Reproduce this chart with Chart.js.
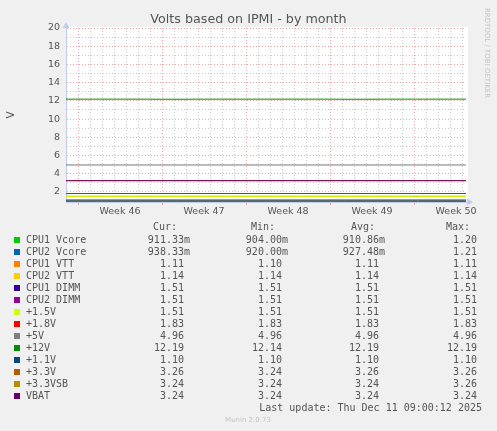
<!DOCTYPE html>
<html>
<head>
<meta charset="utf-8">
<script src="https://cdn.jsdelivr.net/npm/chart.js@4.4.1/dist/chart.umd.min.js"></script>
<style>
    body { margin: 0; background: #f0f0f0; }
    #wrap { position: relative; width: 497px; height: 431px; overflow: hidden; }
    #chart { position: absolute; left: 0; top: 0; }
    #legend { position: absolute; left: 0; top: 0; width: 497px; height: 431px;
              font-family: "DejaVu Sans Mono", monospace; font-size: 10px; color: #555; }
    .t { position: absolute; white-space: pre; line-height: 12px; }
    .sw { position: absolute; width: 6px; height: 6px; }
    #credit { position: absolute; left: 487px; top: 53px; white-space: nowrap;
              transform: translate(-50%, -50%) rotate(90deg);
              font-family: "DejaVu Sans", sans-serif; font-size: 7px; color: #c4c4c4; }
    #munin { position: absolute; left: 248px; top: 420px; transform: translate(-50%, -50%);
             font-family: "DejaVu Sans", sans-serif; font-size: 7px; color: #c4c4c4; }
</style>
</head>
<body>
<div id="wrap">
    <canvas id="chart" width="497" height="431"></canvas>
    <div id="legend"></div>
    <div id="credit">RRDTOOL / TOBI OETIKER</div>
    <div id="munin">Munin 2.0.73</div>
</div>
<script>
// x in days, 0 = monday of week 46
let days = [-1, 2, 5, 8, 11, 14, 17, 20, 23, 26, 27.9, 28.1, 28.3, 30, 32.33];

let week_label_days = [3.5, 10.5, 17.5, 24.5, 31.5];
let week_labels = ['Week 46', 'Week 47', 'Week 48', 'Week 49', 'Week 50'];
let y_tick_values = [1, 2, 3, 4, 5, 6, 7, 8, 9, 10, 11, 12, 13, 14, 15, 16, 17, 18, 19, 20];

let series_names = ['CPU1 Vcore', 'CPU2 Vcore', 'CPU1 VTT', 'CPU2 VTT', 'CPU1 DIMM', 'CPU2 DIMM',
    '+1.5V', '+1.8V', '+5V', '+12V', '+1.1V', '+3.3V', '+3.3VSB', 'VBAT'];
let series_colors = ['#00CC00', '#0066B3', '#FF8000', '#FFCC00', '#330099', '#990099',
    '#CCFF00', '#FF0000', '#808080', '#008F00', '#00487D', '#B35A00', '#B38F00', '#6B006B'];

let cpu1_vcore = [0.91, 0.91, 0.911, 0.91, 0.911, 0.91, 0.911, 0.91, 0.911, 0.91, 0.91, 1.02, 0.91, 0.911, 0.911];
let cpu2_vcore = [0.927, 0.927, 0.928, 0.927, 0.927, 0.928, 0.927, 0.927, 0.928, 0.927, 0.927, 0.94, 0.927, 0.938, 0.938];
let cpu1_vtt = [1.11, 1.11, 1.11, 1.11, 1.11, 1.11, 1.11, 1.11, 1.11, 1.11, 1.11, 1.11, 1.11, 1.11, 1.11];
let cpu2_vtt = [1.14, 1.14, 1.14, 1.14, 1.14, 1.14, 1.14, 1.14, 1.14, 1.14, 1.14, 1.14, 1.14, 1.14, 1.14];
let cpu1_dimm = [1.51, 1.51, 1.51, 1.51, 1.51, 1.51, 1.51, 1.51, 1.51, 1.51, 1.51, 1.51, 1.51, 1.51, 1.51];
let cpu2_dimm = [1.51, 1.51, 1.51, 1.51, 1.51, 1.51, 1.51, 1.51, 1.51, 1.51, 1.51, 1.51, 1.51, 1.51, 1.51];
let v1_5 = [1.51, 1.51, 1.51, 1.51, 1.51, 1.51, 1.51, 1.51, 1.51, 1.51, 1.51, 1.51, 1.51, 1.51, 1.51];
let v1_8 = [1.83, 1.83, 1.83, 1.83, 1.83, 1.83, 1.83, 1.83, 1.83, 1.83, 1.83, 1.83, 1.83, 1.83, 1.83];
let v5 = [4.96, 4.96, 4.96, 4.96, 4.96, 4.96, 4.96, 4.96, 4.96, 4.96, 4.96, 4.96, 4.96, 4.96, 4.96];
let v12 = [12.19, 12.19, 12.19, 12.18, 12.19, 12.19, 12.19, 12.19, 12.18, 12.19, 12.19, 12.19, 12.19, 12.19, 12.19];
let v1_1 = [1.10, 1.10, 1.10, 1.10, 1.10, 1.10, 1.10, 1.10, 1.10, 1.10, 1.10, 1.10, 1.10, 1.10, 1.10];
let v3_3 = [3.26, 3.26, 3.26, 3.26, 3.26, 3.26, 3.26, 3.26, 3.26, 3.26, 3.26, 3.26, 3.26, 3.26, 3.26];
let v3_3sb = [3.24, 3.24, 3.24, 3.24, 3.24, 3.24, 3.24, 3.24, 3.24, 3.24, 3.24, 3.24, 3.24, 3.24, 3.24];
let vbat = [3.24, 3.24, 3.24, 3.24, 3.24, 3.24, 3.24, 3.24, 3.24, 3.24, 3.24, 3.24, 3.24, 3.24, 3.24];

let series_values = [cpu1_vcore, cpu2_vcore, cpu1_vtt, cpu2_vtt, cpu1_dimm, cpu2_dimm,
    v1_5, v1_8, v5, v12, v1_1, v3_3, v3_3sb, vbat];

let cur_values = ['911.33m', '938.33m', '1.11 ', '1.14 ', '1.51 ', '1.51 ', '1.51 ', '1.83 ', '4.96 ', '12.19 ', '1.10 ', '3.26 ', '3.24 ', '3.24 '];
let min_values = ['904.00m', '920.00m', '1.10 ', '1.14 ', '1.51 ', '1.51 ', '1.51 ', '1.83 ', '4.96 ', '12.14 ', '1.10 ', '3.24 ', '3.24 ', '3.24 '];
let avg_values = ['910.86m', '927.48m', '1.11 ', '1.14 ', '1.51 ', '1.51 ', '1.51 ', '1.83 ', '4.96 ', '12.19 ', '1.10 ', '3.26 ', '3.24 ', '3.24 '];
let max_values = ['1.20 ', '1.21 ', '1.11 ', '1.14 ', '1.51 ', '1.51 ', '1.51 ', '1.83 ', '4.96 ', '12.19 ', '1.10 ', '3.26 ', '3.26 ', '3.24 '];
let last_update = 'Last update: Thu Dec 11 09:00:12 2025';

const MGRID = 'rgba(224, 80, 80, 0.5)';
const GRID = 'rgba(143, 143, 143, 0.45)';
const AXIS = '#c4cbee';

let datasets = series_names.map((name, i) => ({
    label: name,
    data: days.map((d, j) => ({x: d, y: series_values[i][j]})),
    borderColor: series_colors[i],
    borderWidth: 1,
    pointRadius: 0,
    tension: 0,
    order: series_names.length - i,   // later series drawn on top, like rrdtool
}));

let plot_background = {
    id: 'plot_background',
    beforeDraw: (chart) => {
        let a = chart.chartArea;
        let ctx = chart.ctx;
        ctx.save();
        ctx.fillStyle = '#ffffff';
        ctx.fillRect(a.left, a.top - 1, a.right - a.left + 2, a.bottom - a.top + 1);
        ctx.restore();
    },
    afterDraw: (chart) => {
        let a = chart.chartArea;
        let ctx = chart.ctx;
        ctx.save();
        ctx.fillStyle = AXIS;
        ctx.beginPath();
        ctx.moveTo(a.left - 3.5, a.top);
        ctx.lineTo(a.left + 3.5, a.top);
        ctx.lineTo(a.left, a.top - 6);
        ctx.closePath();
        ctx.fill();
        ctx.beginPath();
        ctx.moveTo(a.right + 1, a.bottom - 3.5);
        ctx.lineTo(a.right + 1, a.bottom + 3.5);
        ctx.lineTo(a.right + 7, a.bottom);
        ctx.closePath();
        ctx.fill();
        ctx.restore();
    }
};

Chart.defaults.font.family = 'DejaVu Sans';
Chart.defaults.color = '#555';

new Chart(document.getElementById('chart'), {
    type: 'line',
    data: {datasets: datasets},
    plugins: [plot_background],
    options: {
        responsive: false,
        animation: false,
        devicePixelRatio: 1,
        layout: {padding: 0},
        plugins: {
            legend: {display: false},
            tooltip: {enabled: false},
            title: {
                display: true,
                text: 'Volts based on IPMI - by month',
                color: '#555',
                font: {size: 12.7, weight: 'normal', lineHeight: 1.2},
                padding: {top: 12, bottom: 0.76},
            },
        },
        scales: {
            x: {
                type: 'linear',
                min: -1,
                max: 32.33,
                afterFit: (s) => { s.height = 229; },
                afterBuildTicks: (s) => {
                    let t = [];
                    for (let d = 0; d <= 32; d++) t.push({value: d});
                    week_label_days.forEach((d) => t.push({value: d}));
                    s.ticks = t;
                },
                ticks: {
                    autoSkip: false,
                    maxRotation: 0,
                    padding: 1,
                    font: {size: 9.5},
                    color: '#555',
                    callback: (v) => {
                        let k = week_label_days.indexOf(v);
                        return k >= 0 ? week_labels[k] : '';
                    },
                },
                grid: {
                    tickLength: 3,
                    color: (c) => {
                        let v = c.tick ? c.tick.value : 0;
                        if (!Number.isInteger(v)) return 'transparent';
                        return v % 7 === 0 ? MGRID : GRID;
                    },
                    tickColor: (c) => {
                        let v = c.tick ? c.tick.value : 0;
                        return (Number.isInteger(v) && v % 7 === 0) ? MGRID : 'transparent';
                    },
                },
                border: {color: AXIS, dash: [1, 2]},
            },
            y: {
                type: 'linear',
                min: 0.9,
                max: 20,
                afterFit: (s) => { s.width = 66; },
                afterBuildTicks: (s) => {
                    s.ticks = y_tick_values.map((v) => ({value: v}));
                },
                title: {
                    display: true,
                    text: 'V',
                    color: '#555',
                    font: {size: 10.5},
                    padding: {top: 5, bottom: 0},
                },
                ticks: {
                    autoSkip: false,
                    padding: 6,
                    font: {size: 9.5},
                    color: '#555',
                    callback: (v) => (v % 2 === 0 ? String(v) : ''),
                },
                grid: {
                    drawTicks: false,
                    color: (c) => {
                        let v = c.tick ? c.tick.value : 0;
                        return v % 2 === 0 ? MGRID : GRID;
                    },
                },
                border: {color: AXIS, dash: [1, 2]},
            },
            y_right: {
                position: 'right',
                afterFit: (s) => { s.width = 31; },
                ticks: {display: false},
                grid: {display: false},
                border: {display: false},
            },
        },
    },
});

// rrdtool style legend below the graph
let legend = document.getElementById('legend');

function put_text(text, x, y, right_aligned) {
    let el = document.createElement('div');
    el.className = 't';
    el.textContent = text;
    el.style.top = (y - 6) + 'px';
    if (right_aligned) {
        el.style.right = (497 - x) + 'px';
    } else {
        el.style.left = x + 'px';
    }
    legend.appendChild(el);
}

put_text('Cur:', 177, 227, true);
put_text('Min:', 275, 227, true);
put_text('Avg:', 375, 227, true);
put_text('Max:', 470, 227, true);

series_names.forEach((name, i) => {
    let y = 239.7 + i * 12;
    let sw = document.createElement('div');
    sw.className = 'sw';
    sw.style.left = '14px';
    sw.style.top = (y - 3) + 'px';
    sw.style.background = series_colors[i];
    legend.appendChild(sw);

    put_text(name, 26, y, false);
    put_text(cur_values[i], 190, y, true);
    put_text(min_values[i], 288, y, true);
    put_text(avg_values[i], 385, y, true);
    put_text(max_values[i], 483, y, true);
});

put_text(last_update, 482, 407.7, true);
</script>
</body>
</html>
